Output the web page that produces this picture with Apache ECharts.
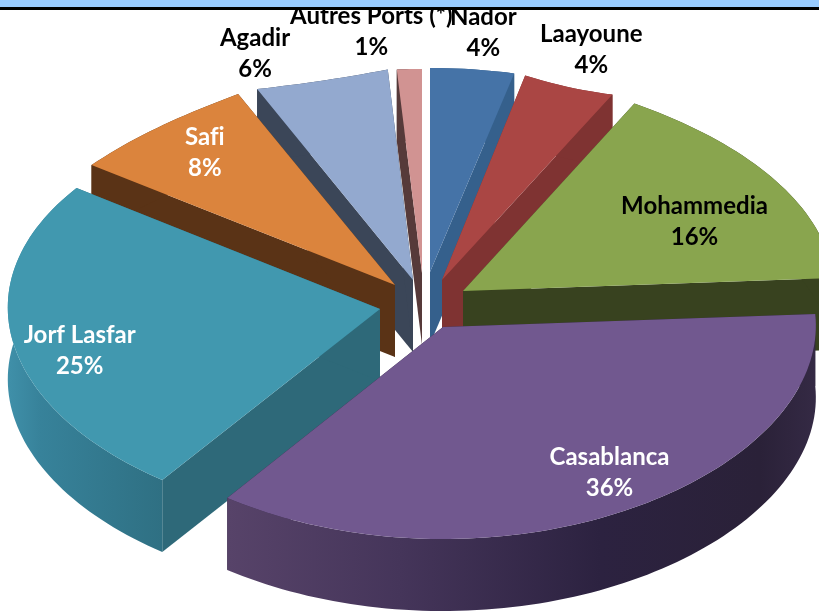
<!DOCTYPE html>
<html>
<head>
<meta charset="utf-8">
<style>html,body{margin:0;padding:0;background:#fff;overflow:hidden}#c{width:819px;height:612px}</style>
<script src="https://cdn.jsdelivr.net/npm/echarts@6/dist/echarts.min.js"></script>
</head>
<body>
<div id="c"></div>
<script>
// Data (slices run clockwise from 12 o'clock)
const categories = ['Nador', 'Laayoune', 'Mohammedia', 'Casablanca', 'Jorf Lasfar', 'Safi', 'Agadir', 'Autres Ports (*)'];
const shares = [3.7, 4.1, 16.2, 36, 25, 8, 5.9, 1.1];

// Styles
const topColors = ['#4573a7', '#aa4644', '#89a54e', '#71588f', '#4198af', '#db843d', '#93a9cf', '#d19392'];
const wallColors = ['#35608c', '#7f3332', '#38421f', '#2b2138', '#2e6979', '#5a3316', '#3b4658', '#563a3a'];
const labelColors = ['#000', '#000', '#000', '#fff', '#fff', '#fff', '#000', '#000'];
const rimStops = {
  3: [[228, '#574369'], [400, '#45355a'], [600, '#2c2240'], [760, '#2a2138'], [819, '#352a45']],
  4: [[10, '#3f8fa8'], [40, '#37829a'], [162, '#2f7083']]
};
// Exploded offset of each slice and label nudge from its arc midpoint, in px
const explodeShift = [[10, -33], [22, -25], [43, -14], [23, 22], [-40, 4], [-25, -20], [-7, -25], [2, -32]];
const labelShift = [[11, -37], [20, -39], [-79, 42], [-10, -40], [66, 9], [44, 26], [-66, -29], [-38, -37]];
// Projection distortion at each slice's two outer corners, in px: [start dx, dy, end dx, dy]
const cornerWarp = [[0, 0, 0, 0], [-1, -6, -2, -5], [-1, -7, 0, 0], [2, 0, 0, 0], [-2, 0, -5, 0], [-5, 1, -1, -6], [0, -6, 0, -7], [0, 0, 0, 0]];

const cx = 420, cy = 305, depth = 72;
const total = shares.reduce((a, b) => a + b, 0);
// mild perspective: the far side of the pie is slightly smaller than the near side
const radiusX = a => 371 - 6 * Math.cos(a) * Math.cos(a);
const radiusY = a => 208 - 4 * Math.cos(a);

const sliceStart = [];
shares.reduce((acc, v, i) => { sliceStart[i] = acc; return acc + v; }, 0);
const toAngle = p => p / total * 2 * Math.PI;
const midAngle = i => toAngle(sliceStart[i] + shares[i] / 2);
// back slices are painted first
const paintOrder = shares.map((_, i) => i).sort((a, b) => Math.cos(midAngle(b)) - Math.cos(midAngle(a)));

function arcPoints(i) {
  const tx = cx + explodeShift[i][0], ty = cy + explodeShift[i][1];
  const a0 = toAngle(sliceStart[i]), a1 = toAngle(sliceStart[i] + shares[i]);
  const n = Math.max(6, Math.ceil((a1 - a0) * 40));
  const w = cornerWarp[i];
  const pts = [];
  for (let k = 0; k <= n; k++) {
    const t = k / n, a = a0 + (a1 - a0) * t;
    const ws = Math.pow(1 - t, 3), we = t * t * t;
    pts.push([
      tx + radiusX(a) * Math.sin(a) + w[0] * ws + w[2] * we,
      ty - radiusY(a) * Math.cos(a) + w[1] * ws + w[3] * we
    ]);
  }
  return { tip: [tx, ty], pts };
}
const down = p => [p[0], p[1] + depth];

function renderSlice(params, api) {
  const i = paintOrder[params.dataIndex];
  const { tip, pts } = arcPoints(i);
  const first = pts[0], last = pts[pts.length - 1];
  const flat = wallColors[i];
  let rimFill = flat;
  if (rimStops[i]) {
    const st = rimStops[i], x0 = st[0][0], x1 = st[st.length - 1][0];
    rimFill = {
      type: 'linear', x: x0, y: 0, x2: x1, y2: 0, global: true,
      colorStops: st.map(s => ({ offset: (s[0] - x0) / (x1 - x0), color: s[1] }))
    };
  }
  return {
    type: 'group',
    children: [
      { type: 'polygon', shape: { points: [tip, first, down(first), down(tip)] }, style: { fill: flat } },
      { type: 'polygon', shape: { points: [tip, last, down(last), down(tip)] }, style: { fill: flat } },
      { type: 'polygon', shape: { points: pts.concat(pts.map(down).reverse()) }, style: { fill: rimFill } },
      { type: 'polygon', shape: { points: [tip].concat(pts) }, style: { fill: topColors[i] } }
    ]
  };
}

function renderLabel(params, api) {
  const i = params.dataIndex;
  const a = midAngle(i);
  const x = cx + explodeShift[i][0] + radiusX(a) * Math.sin(a) + labelShift[i][0];
  const y = cy + explodeShift[i][1] - radiusY(a) * Math.cos(a) + labelShift[i][1];
  return {
    type: 'text',
    style: {
      x, y,
      text: categories[i] + '\n' + Math.round(shares[i]) + '%',
      fill: labelColors[i],
      font: 'bold 24px Lato, "Open Sans", sans-serif',
      lineHeight: 31,
      align: 'center',
      verticalAlign: 'middle'
    }
  };
}

// The reference's font has no "fi" ligature; a tiny letter spacing turns it off in canvas text.
const nativeFillText = CanvasRenderingContext2D.prototype.fillText;
CanvasRenderingContext2D.prototype.fillText = function () {
  this.letterSpacing = '0.01px';
  return nativeFillText.apply(this, arguments);
};

const chart = echarts.init(document.getElementById('c'), null, { renderer: 'canvas' });
chart.setOption({
  animation: false,
  backgroundColor: '#ffffff',
  series: [
    { type: 'custom', coordinateSystem: 'none', silent: true, z: 2, renderItem: renderSlice, data: paintOrder.map(i => shares[i]) },
    { type: 'custom', coordinateSystem: 'none', silent: true, z: 3, renderItem: renderLabel, data: shares }
  ],
  graphic: [
    { type: 'rect', z: 10, shape: { x: 0, y: 0, width: 819, height: 7 }, style: { fill: '#99ccff' } },
    { type: 'rect', z: 10, shape: { x: 0, y: 7, width: 819, height: 3 }, style: { fill: '#000000' } }
  ]
});
</script>
</body>
</html>
